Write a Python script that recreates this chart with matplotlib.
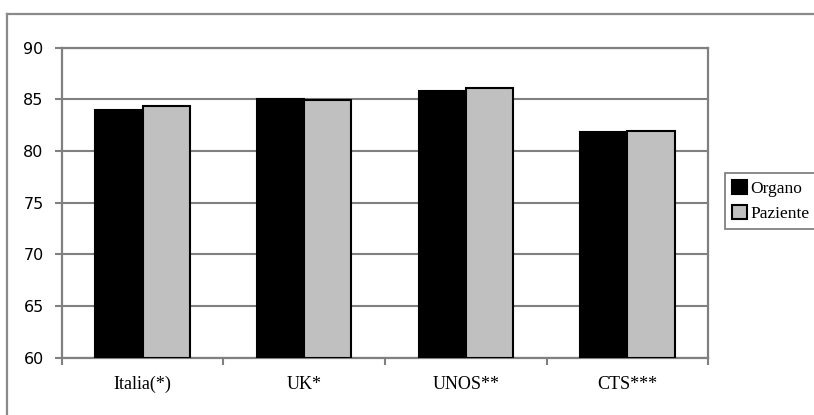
import matplotlib
matplotlib.use("Agg")
import matplotlib.pyplot as plt
import numpy as np
from matplotlib.lines import Line2D

categories = ["Italia(*)", "UK*", "UNOS**", "CTS***"]
organo = [84.0, 85.0, 85.8, 81.8]
paziente = [84.4, 84.9, 86.1, 81.9]
series_names = ["Organo", "Paziente"]
yticks = [60, 65, 70, 75, 80, 85, 90]

W, H = 814, 415
fig = plt.figure(figsize=(W / 100, H / 100), dpi=100)
fig.patch.set_facecolor("white")

# outer chart frame (top and left visible)
fig.add_artist(Line2D([7 / W, 1.0], [1 - 14 / H, 1 - 14 / H], transform=fig.transFigure,
                      color="#8a8a8a", lw=1.6))
fig.add_artist(Line2D([7 / W, 7 / W], [1 - 14 / H, 0.0], transform=fig.transFigure,
                      color="#8a8a8a", lw=1.6))

ax_l, ax_r = 61.7 / W, 708.3 / W
ax_t, ax_b = 1 - 47.7 / H, 1 - 357.7 / H
ax = fig.add_axes([ax_l, ax_b, ax_r - ax_l, ax_t - ax_b])

x = np.arange(len(categories))
bw = 0.292
ax.bar(x - bw / 2, np.array(organo) - 60, bw, bottom=60, color="black",
       edgecolor="black", linewidth=1.5, zorder=3, label=series_names[0])
ax.bar(x + bw / 2, np.array(paziente) - 60, bw, bottom=60, color="#c0c0c0",
       edgecolor="black", linewidth=1.5, zorder=3, label=series_names[1])

ax.set_xlim(-0.5, len(categories) - 0.5)
ax.set_ylim(60, 90)
ax.set_yticks(yticks)
ax.set_yticklabels([str(v) for v in yticks], family="DejaVu Sans", fontsize=11.5)
ax.yaxis.grid(True, color="#808080", lw=1.5, zorder=1)
ax.set_axisbelow(True)

ax.set_xticks(np.arange(len(categories) + 1) - 0.5)
ax.set_xticklabels([])
ax.set_xticks(x, minor=True)
ax.set_xticklabels(categories, minor=True, family="Liberation Serif", fontsize=13)
ax.tick_params(axis="x", which="minor", length=0, pad=13)
ax.tick_params(axis="x", which="major", length=5, width=1.5, color="#808080", direction="out")
ax.tick_params(axis="y", length=5, width=1.5, color="#808080", direction="out", pad=8)

for s in ax.spines.values():
    s.set_color("#808080")
    s.set_linewidth(1.6)

leg = fig.legend(loc="upper left", bbox_to_anchor=(725 / W, 1 - 173 / H),
                 bbox_transform=fig.transFigure,
                 prop={"family": "Liberation Serif", "size": 12.5},
                 frameon=True, fancybox=False, borderpad=0.4, labelspacing=0.48,
                 handlelength=0.86, handleheight=0.86, handletextpad=0.2, borderaxespad=0)
leg.get_frame().set_edgecolor("#555555")
leg.get_frame().set_linewidth(1.2)

fig.savefig("out.png", dpi=100, facecolor="white")
